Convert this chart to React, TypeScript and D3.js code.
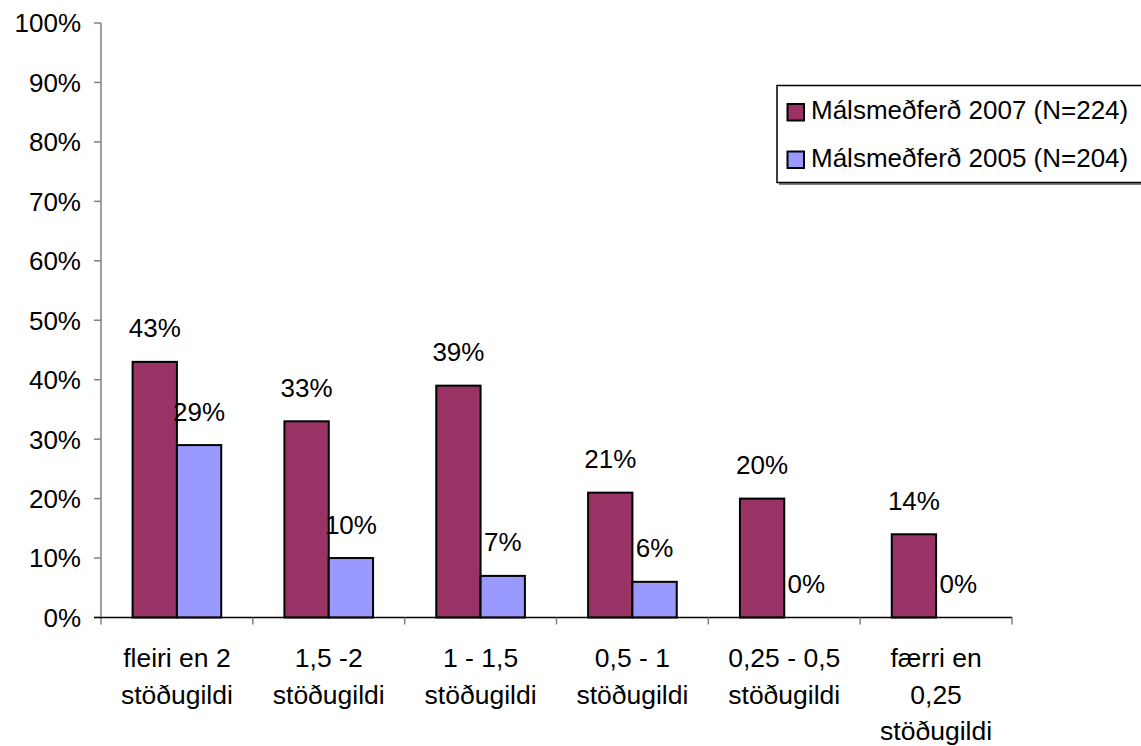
import React from "react";
import * as d3 from "d3";

const categories: string[][] = [
  ["fleiri en 2", "stöðugildi"],
  ["1,5 -2", "stöðugildi"],
  ["1 - 1,5", "stöðugildi"],
  ["0,5 - 1", "stöðugildi"],
  ["0,25 - 0,5", "stöðugildi"],
  ["færri en", "0,25", "stöðugildi"],
];
const seriesNames = ["Málsmeðferð 2007 (N=224)", "Málsmeðferð 2005 (N=204)"];
const series2007 = [0.43, 0.33, 0.39, 0.21, 0.2, 0.14];
const series2005 = [0.29, 0.1, 0.07, 0.06, 0, 0];
const seriesColors = ["#993366", "#9999FF"];
const yTicks = [0, 0.1, 0.2, 0.3, 0.4, 0.5, 0.6, 0.7, 0.8, 0.9, 1.0];

const W = 1141;
const H = 746;
const FONT = "'Liberation Sans', Arial, sans-serif";
const FS = 26;

export default function App() {
  const left = 101;
  const right = 1012;
  const top = 23;
  const bottom = 617.5;

  const y = d3.scaleLinear().domain([0, 1]).range([bottom, top]);
  const idx = categories.map((_, i) => String(i));
  const x0 = d3.scaleBand<string>().domain(idx).range([left, right]).padding(0);
  const x1 = d3
    .scaleBand<string>()
    .domain(["0", "1"])
    .range([0, x0.bandwidth()])
    .paddingInner(0)
    .paddingOuter(0.713);
  const data = [series2007, series2005];
  const fmt = d3.format(".0%");

  return (
    <svg
      width={W}
      height={H}
      style={{ position: "absolute", left: 0, top: 0, background: "#fff" }}
      fontFamily={FONT}
      fontSize={FS}
    >
      <rect x={0} y={0} width={W} height={H} fill="#fff" />
      {/* y axis */}
      <line x1={left} x2={left} y1={top} y2={bottom + 7} stroke="#808080" strokeWidth={1.5} />
      {yTicks.map((t) => (
        <g key={t}>
          <line x1={left - 7} x2={left} y1={y(t)} y2={y(t)} stroke="#808080" strokeWidth={1.5} />
          <text x={81} y={y(t)} dy="0.36em" textAnchor="end" fill="#000">
            {fmt(t)}
          </text>
        </g>
      ))}
      {/* bars */}
      {categories.map((_, i) => (
        <g key={i} transform={`translate(${x0(String(i))},0)`}>
          {data.map((s, j) => {
            const bx = x1(String(j))!;
            const bw = x1.bandwidth();
            const v = s[i];
            return (
              <g key={j}>
                {v > 0 && (
                  <rect
                    x={bx}
                    y={y(v)}
                    width={bw}
                    height={bottom - y(v)}
                    fill={seriesColors[j]}
                    stroke="#000"
                    strokeWidth={2}
                  />
                )}
                <text x={bx + bw / 2} y={y(v) - 24.5} textAnchor="middle" fill="#000">
                  {fmt(v)}
                </text>
              </g>
            );
          })}
        </g>
      ))}
      {/* x axis */}
      <line x1={left - 7} x2={right} y1={bottom} y2={bottom} stroke="#000" strokeWidth={1.5} />
      {categories.map((_, i) => (
        <line
          key={"t" + i}
          x1={x0(String(i))! + x0.bandwidth()}
          x2={x0(String(i))! + x0.bandwidth()}
          y1={bottom}
          y2={bottom + 7}
          stroke="#808080"
          strokeWidth={1.5}
        />
      ))}
      {categories.map((lines, i) => (
        <text key={"l" + i} textAnchor="middle" fill="#000" fontSize={26.5}>
          {lines.map((ln, k) => (
            <tspan key={k} x={x0(String(i))! + x0.bandwidth() / 2} y={667 + k * 36.5}>
              {ln}
            </tspan>
          ))}
        </text>
      ))}
      {/* legend */}
      <rect x={779} y={88} width={370} height={97} fill="#808080" />
      <rect x={777} y={85.5} width={370} height={97} fill="#fff" stroke="#000" strokeWidth={1.5} />
      {seriesNames.map((n, j) => (
        <g key={n}>
          <rect
            x={787.5}
            y={104 + j * 47.5}
            width={16.5}
            height={16.5}
            fill={seriesColors[j]}
            stroke="#000"
            strokeWidth={2}
          />
          <text x={811} y={118.5 + j * 48} fill="#000">
            {n}
          </text>
        </g>
      ))}
    </svg>
  );
}
